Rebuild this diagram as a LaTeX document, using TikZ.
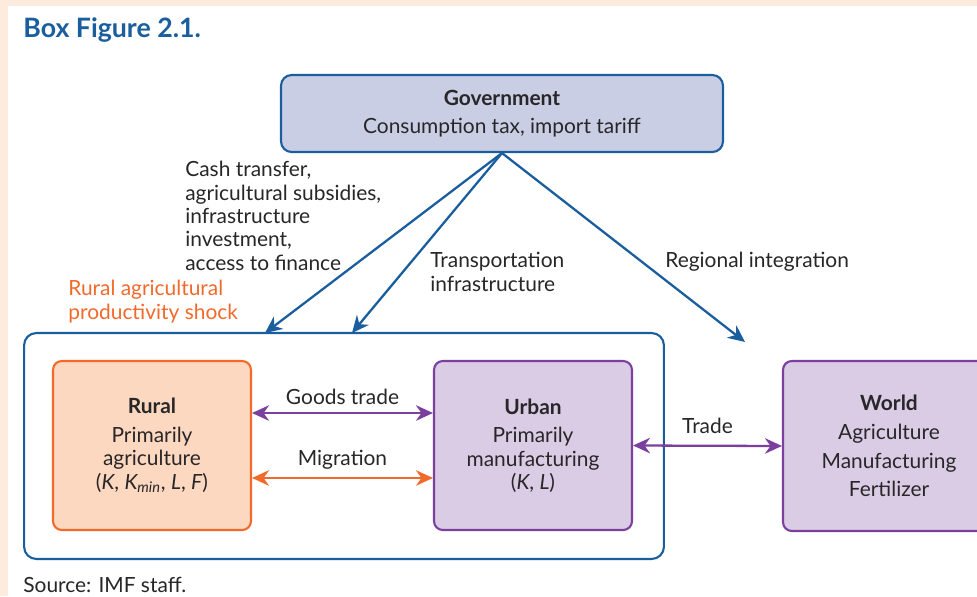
\documentclass[tikz,border=0pt]{standalone}
\usepackage{fontspec}
\setmainfont{Lato}
\usepackage{xcolor}
\usepackage{tikz}
\usetikzlibrary{arrows.meta, positioning, calc}
\definecolor{imfblue}{RGB}{26,94,158}
\definecolor{govfill}{RGB}{201,206,228}
\definecolor{ruralorange}{RGB}{242,106,43}
\definecolor{ruralfill}{RGB}{253,216,192}
\definecolor{urbanpurple}{RGB}{123,63,158}
\definecolor{urbanfill}{RGB}{217,204,228}
\definecolor{peach}{RGB}{253,235,221}
\definecolor{txt}{RGB}{40,38,40}

\begin{document}
\begin{tikzpicture}[
    x=0.02cm, y=-0.02cm,
    every node/.style={font=\fontsize{11.9}{13.3}\selectfont, text=txt},
    govbox/.style={rectangle, draw=imfblue, fill=govfill, line width=1.2pt, rounded corners=6pt, minimum width=8.84cm, minimum height=1.54cm, align=center},
    ruralbox/.style={rectangle, draw=ruralorange, fill=ruralfill, line width=1.2pt, rounded corners=5pt, minimum width=3.96cm, minimum height=3.38cm, align=center},
    urbanbox/.style={rectangle, draw=urbanpurple, fill=urbanfill, line width=1.2pt, rounded corners=5pt, minimum width=3.96cm, minimum height=3.38cm, align=center},
    countrybox/.style={rectangle, draw=imfblue, line width=1.2pt, rounded corners=7pt, minimum width=12.8cm, minimum height=4.52cm},
    lbl/.style={inner sep=0pt, align=left, anchor=north west},
    govarrow/.style={-{Stealth[length=3.4mm, width=3.1mm, inset=1.1mm]}, line width=1.3pt, imfblue},
    tradearrow/.style={{Stealth[length=3.4mm, width=3.1mm, inset=1.1mm]}-{Stealth[length=3.4mm, width=3.1mm, inset=1.1mm]}, line width=1.3pt, urbanpurple},
    migarrow/.style={{Stealth[length=3.4mm, width=3.1mm, inset=1.1mm]}-{Stealth[length=3.4mm, width=3.1mm, inset=1.1mm]}, line width=1.3pt, ruralorange}
]
\clip (0,0) rectangle (977,596);
\fill[peach] (0,0) rectangle (977,596);
\fill[white] (8,6) rectangle (977,596);

\node[anchor=west, inner sep=0pt, font=\fontsize{15.2}{17}\selectfont\bfseries, text=imfblue] (title) at (23,30) {Box Figure 2.1.};

\node[govbox] (gov) at (502,113.5) {\textbf{Government}\\[3pt] Consumption tax, import tariff};

\node[countrybox] (country) at (344,446) {};
\node[ruralbox] (rural) at (152,445.5) {\textbf{Rural}\\[3pt] Primarily\\ agriculture\\ (\textit{K}, \textit{K\textsubscript{min}}, \textit{L}, \textit{F})};
\node[urbanbox] (urban) at (533,445.5) {\textbf{Urban}\\[3pt] Primarily\\ manufacturing\\ (\textit{K}, \textit{L})};
\node[urbanbox, minimum width=4.24cm, minimum height=3.4cm] (world) at (889,446) {\textbf{World}\\[3pt] Agriculture\\[3pt] Manufacturing\\[3pt] Fertilizer};

% free ends of the policy arrows
\coordinate (shockend) at (265,333);
\coordinate (transend) at (352,333);
\coordinate (regend) at (745,342);

\node[lbl] (cash) at (185,161) {Cash transfer,\\ agricultural subsidies,\\ infrastructure\\ investment,\\ access to finance};
\node[lbl] (transport) at (430,252) {Transportation\\ infrastructure};
\node[lbl] (regional) at (665,252) {Regional integration};
\node[lbl, text=ruralorange] (shock) at (68,280) {Rural agricultural\\ productivity shock};

\draw[govarrow] (gov.south) -- (shockend);
\draw[govarrow] (gov.south) -- (transend);
\draw[govarrow] (gov.south) -- (regend);

\draw[tradearrow] ([yshift=0.65cm]rural.east) -- node[above=1pt] (goods) {Goods trade} ([yshift=0.65cm]urban.west);
\draw[migarrow] ([yshift=-0.65cm]rural.east) -- node[above=1pt] (migr) {Migration} ([yshift=-0.65cm]urban.west);
\draw[tradearrow] (urban.east) -- node[above=3pt] (trade) {Trade} (world.west);

\node[anchor=west, inner sep=0pt] (source) at (23,585) {Source: IMF staff.};
\end{tikzpicture}
\end{document}
